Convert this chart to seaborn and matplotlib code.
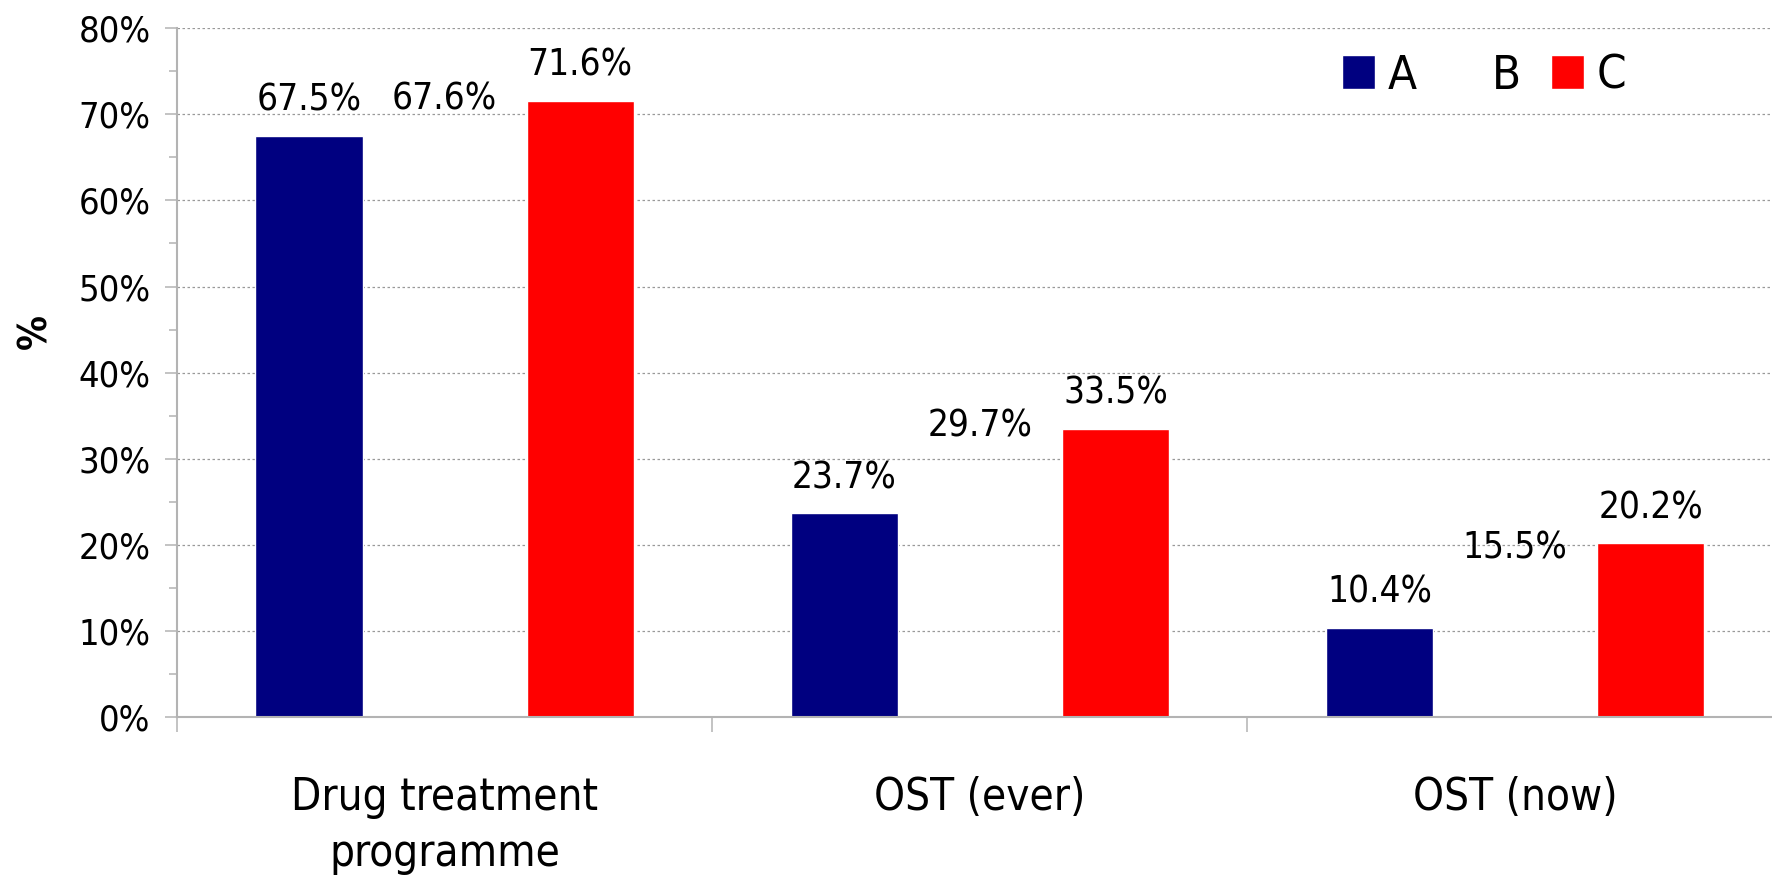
import matplotlib
matplotlib.use("Agg")
import matplotlib.pyplot as plt
from matplotlib.ticker import MultipleLocator, FixedLocator, PercentFormatter
import seaborn as sns
import pandas as pd

categories = ["Drug treatment\nprogramme", "OST (ever)", "OST (now)"]
series_names = ["A", "B", "C"]
values_a = [67.5, 23.7, 10.4]
values_b = [67.6, 29.7, 15.5]
values_c = [71.6, 33.5, 20.2]

df = pd.DataFrame({
    "category": categories * 3,
    "series": [s for s in series_names for _ in categories],
    "value": values_a + values_b + values_c,
})

sns.set_theme(style="white")
plt.rcParams["font.family"] = ["DejaVu Sans"]
plt.rcParams["font.stretch"] = "condensed"
plt.rcParams["text.color"] = "black"
plt.rcParams["axes.labelcolor"] = "black"

fig = plt.figure(figsize=(17.72, 8.8), dpi=100)
ax = fig.add_axes([0.0999, 0.185, 0.9001, 0.783])

palette = {"A": "#000080", "B": "#ffffff", "C": "#ff0000"}
sns.barplot(data=df, x="category", y="value", hue="series", order=categories,
            hue_order=series_names, palette=palette, saturation=1,
            width=0.76, gap=0.21, ax=ax, legend=True)

# series B is drawn without fill
for patch in ax.containers[1]:
    patch.set_facecolor("none")
    patch.set_edgecolor("none")

# value labels above every bar
for cont in ax.containers:
    for patch in cont:
        h = patch.get_height()
        ax.annotate(f"{h:.1f}%", (patch.get_x() + patch.get_width() / 2, h),
                    xytext=(0, 25), textcoords="offset pixels",
                    ha="center", va="baseline", fontsize=26.5, color="black")

ax.set_ylim(0, 80)
ax.set_xlim(-0.5, 2.48)
ax.yaxis.set_major_locator(MultipleLocator(10))
ax.yaxis.set_minor_locator(MultipleLocator(5))
ax.yaxis.set_major_formatter(PercentFormatter(decimals=0))
ax.grid(axis="y", which="major", color="#999999", linestyle=(0, (2, 2)), linewidth=0.9)
ax.set_axisbelow(True)

ax.xaxis.set_minor_locator(FixedLocator([-0.5, 0.5, 1.5]))
ax.tick_params(axis="x", which="major", length=0, pad=42, labelsize=31.5, labelcolor="black")
ax.tick_params(axis="x", which="minor", length=11, width=1.1, color="#b3b3b3", bottom=True)
ax.tick_params(axis="y", which="major", length=9, width=1.1, color="#b3b3b3",
               labelsize=26, pad=10, left=True, labelcolor="black")
ax.tick_params(axis="y", which="minor", length=6, width=1.1, color="#b3b3b3", left=True)
for lbl in ax.get_xticklabels():
    lbl.set_linespacing(1.4)

for side in ["top", "right"]:
    ax.spines[side].set_visible(False)
for side in ["left", "bottom"]:
    ax.spines[side].set_color("#b3b3b3")
    ax.spines[side].set_linewidth(1.5)

ax.set_xlabel("")
ax.set_ylabel("%", fontsize=28, fontweight="bold", color="black")
ax.yaxis.set_label_coords(-0.077, 0.56)

handles, labels = ax.get_legend_handles_labels()
ax.legend(handles, labels, loc="center left",
          bbox_to_anchor=(1342 / 1772, 1 - 76 / 880), bbox_transform=fig.transFigure,
          ncol=3, frameon=False, fontsize=34, handlelength=0.7, handleheight=0.7,
          handletextpad=0.26, columnspacing=0.64, borderpad=0, borderaxespad=0)

fig.savefig("out.png", dpi=100)
